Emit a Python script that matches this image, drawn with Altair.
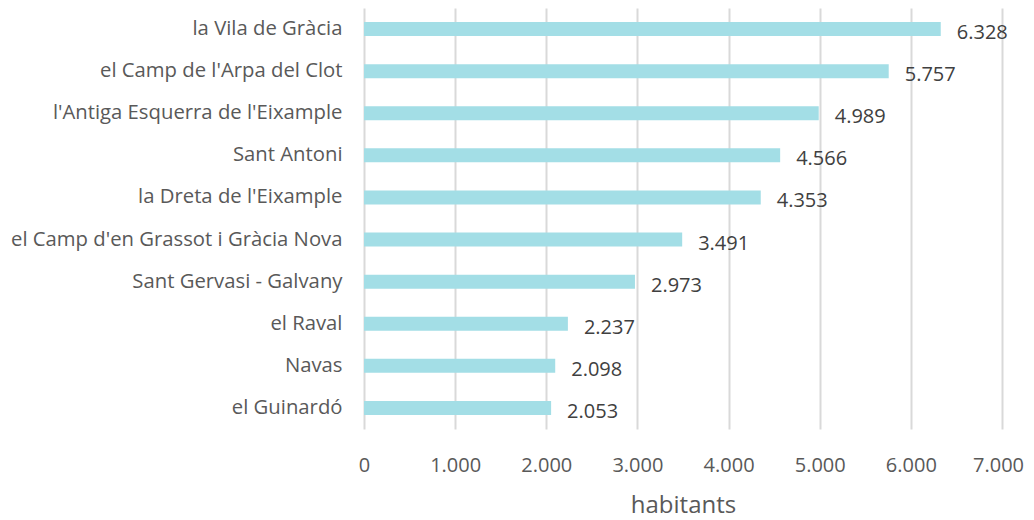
import altair as alt
import pandas as pd

barris = ["la Vila de Gràcia", "el Camp de l'Arpa del Clot", "l'Antiga Esquerra de l'Eixample",
          "Sant Antoni", "la Dreta de l'Eixample", "el Camp d'en Grassot i Gràcia Nova",
          "Sant Gervasi - Galvany", "el Raval", "Navas", "el Guinardó"]
habitants = [6328, 5757, 4989, 4566, 4353, 3491, 2973, 2237, 2098, 2053]

df = pd.DataFrame({"barri": barris, "habitants": habitants})

FONT = "Open Sans"

x = alt.X("habitants:Q", title="habitants",
          scale=alt.Scale(domain=[0, 7000], nice=False),
          axis=alt.Axis(values=[0, 1000, 2000, 3000, 4000, 5000, 6000, 7000],
                        labelExpr="replace(format(datum.value, ','), ',', '.')",
                        labelOffset={"condition": {"test": "datum.value == 7000", "value": -4}, "value": 0},
                        grid=True, gridColor="#d9d9d9", gridWidth=2,
                        domain=False, ticks=False, labelPadding=26, labelFlush=False,
                        labelFontSize=20, labelColor="#595959", labelFont=FONT,
                        titleFontSize=24, titleColor="#595959", titleFont=FONT,
                        titleFontWeight="normal", titlePadding=18))
y = alt.Y("barri:N", sort=barris, title=None,
          scale=alt.Scale(paddingInner=0.67, paddingOuter=0.335),
          axis=alt.Axis(domain=False, ticks=False, grid=False, labelPadding=22,
                        labelLimit=0,
                        labelFontSize=20.3, labelColor="#595959", labelFont=FONT))

bars = alt.Chart(df).mark_bar(color="#a3dee6", size=14).encode(x=x, y=y)
text = alt.Chart(df).transform_calculate(
    lbl="replace(format(datum.habitants, ','), ',', '.')"
).mark_text(align="left", baseline="middle", dx=16, dy=4, fontSize=20,
            color="#404040", font=FONT).encode(x="habitants:Q", y=alt.Y("barri:N", sort=barris), text="lbl:N")

chart = (bars + text).properties(
    width=638, height=421,
    autosize=alt.AutoSizeParams(type="none"),
    padding={"left": 356, "top": 0, "right": 24, "bottom": 90},
).configure_view(stroke=None)

chart.save("out.html", embed_options={"renderer": "svg", "actions": False})
